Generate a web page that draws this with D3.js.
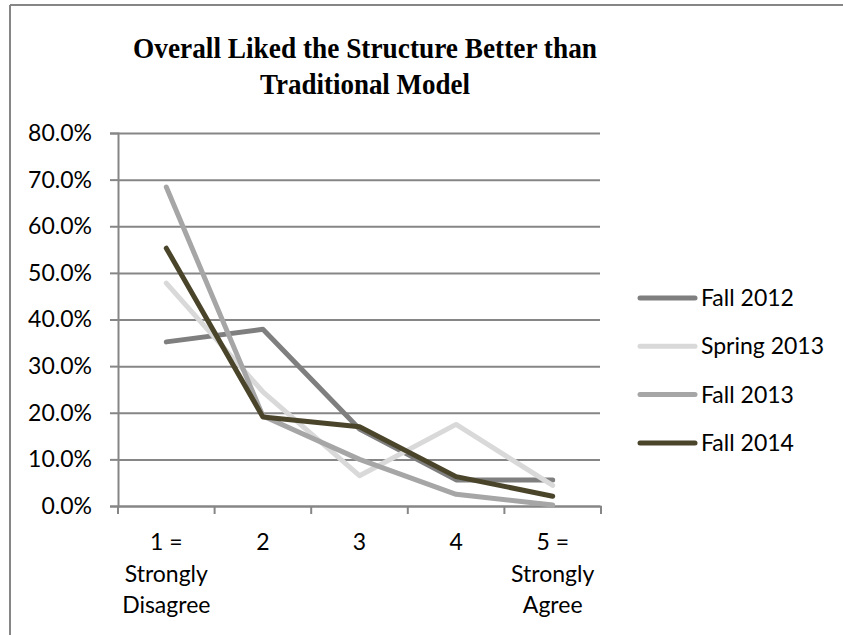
<!DOCTYPE html>
<html>
<head>
<meta charset="utf-8">
<script src="https://cdn.jsdelivr.net/npm/d3@7"></script>
<style>
  html, body { margin: 0; padding: 0; background: #fff; }
  svg { display: block; }
  text { font-family: Lato, "Noto Sans", sans-serif; fill: #000; }
</style>
</head>
<body>
<svg id="chart" width="843" height="635"></svg>
<script>
// Response scale categories (multi-line labels)
const categories = ["1 = Strongly Disagree", "2", "3", "4", "5 = Strongly Agree"];
const categoryLines = [["1 =", "Strongly", "Disagree"], ["2"], ["3"], ["4"], ["5 =", "Strongly", "Agree"]];

// Share of respondents per response, by term
const seriesNames = ["Fall 2012", "Spring 2013", "Fall 2013", "Fall 2014"];
const fall2012   = [0.352, 0.379, 0.165, 0.056, 0.056];
const spring2013 = [0.478, 0.245, 0.065, 0.175, 0.044];
const fall2013   = [0.684, 0.193, 0.100, 0.025, 0.002];
const fall2014   = [0.553, 0.191, 0.170, 0.063, 0.021];
const seriesValues = [fall2012, spring2013, fall2013, fall2014];
const seriesColors = ["#7f7f7f", "#d9d9d9", "#a6a6a6", "#4a452a"];

const yTicks = [0, 0.1, 0.2, 0.3, 0.4, 0.5, 0.6, 0.7, 0.8];
const titleLines = ["Overall Liked the Structure Better than", "Traditional Model"];

const svg = d3.select("#chart");
const gridColor = "#868686";

// Chart frame (top and left edges)
svg.append("line").attr("x1", 10).attr("x2", 843).attr("y1", 5).attr("y2", 5)
  .attr("stroke", gridColor).attr("stroke-width", 2);
svg.append("line").attr("x1", 10).attr("x2", 10).attr("y1", 5).attr("y2", 635)
  .attr("stroke", gridColor).attr("stroke-width", 2);

// Title: condensed bold serif, each line fitted to its width
const titleWidths = [464, 210];
svg.append("text")
  .attr("text-anchor", "middle")
  .style("font-family", "'Liberation Serif', 'Times New Roman', serif")
  .style("font-weight", "bold")
  .style("font-size", "30px")
  .selectAll("tspan").data(titleLines).join("tspan")
  .attr("x", 365)
  .attr("y", (d, i) => 58 + i * 36)
  .attr("textLength", (d, i) => titleWidths[i])
  .attr("lengthAdjust", "spacingAndGlyphs")
  .text(d => d);

const plot = { left: 118, right: 601, top: 133, bottom: 506 };

const x = d3.scaleBand().domain(categories).range([plot.left, plot.right]);
const y = d3.scaleLinear().domain([0, 0.8]).range([plot.bottom, plot.top]);

// Horizontal gridlines
const grid = svg.append("g").attr("transform", `translate(${plot.left},0)`)
  .call(d3.axisLeft(y).tickValues(yTicks).tickSize(-(plot.right - plot.left - 1)).tickFormat(""));
grid.select(".domain").remove();
grid.selectAll(".tick line").attr("stroke", gridColor).attr("stroke-width", 2);

// Y axis with tick labels
const yAxis = svg.append("g").attr("transform", `translate(${plot.left},0)`)
  .call(d3.axisLeft(y).tickValues(yTicks).tickSize(8).tickPadding(18).tickFormat(d3.format(".1%")));
yAxis.select(".domain").attr("stroke", gridColor).attr("stroke-width", 2);
yAxis.selectAll(".tick line").attr("stroke", gridColor).attr("stroke-width", 2);
yAxis.selectAll(".tick text").style("font-size", "23px").style("font-family", "Lato, sans-serif");

// X axis: baseline, ticks at category boundaries, multi-line labels
const xAxis = svg.append("g").attr("transform", `translate(0,${plot.bottom})`)
  .call(d3.axisBottom(x).tickSize(0).tickPadding(0).tickFormat(""));
xAxis.select(".domain").attr("stroke", gridColor).attr("stroke-width", 2);
xAxis.selectAll(".tick text").remove();

const boundaries = categories.map(c => x(c)).concat([x(categories[categories.length - 1]) + x.bandwidth()]);
xAxis.selectAll("line.boundary").data(boundaries).join("line")
  .attr("class", "boundary")
  .attr("x1", d => d).attr("x2", d => d)
  .attr("y1", 0).attr("y2", 8)
  .attr("stroke", gridColor).attr("stroke-width", 2);

const labelBaselines = [550, 582, 613];
svg.append("g").selectAll("text").data(categories).join("text")
  .attr("text-anchor", "middle")
  .style("font-size", "23px")
  .each(function (c, i) {
    d3.select(this).selectAll("tspan").data(categoryLines[i]).join("tspan")
      .attr("x", x(c) + x.bandwidth() / 2)
      .attr("y", (d, j) => labelBaselines[j])
      .text(d => d);
  });

// Series lines
const line = d3.line()
  .x((d, i) => x(categories[i]) + x.bandwidth() / 2)
  .y(d => y(d));

svg.append("g").selectAll("path").data(seriesValues).join("path")
  .attr("d", d => line(d))
  .attr("fill", "none")
  .attr("stroke", (d, i) => seriesColors[i])
  .attr("stroke-width", 5)
  .attr("stroke-linecap", "round")
  .attr("stroke-linejoin", "round");

// Legend
const legend = svg.append("g").selectAll("g").data(seriesNames).join("g")
  .attr("transform", (d, i) => `translate(640,${298 + i * 48.3})`);
legend.append("line")
  .attr("x1", 0).attr("x2", 55).attr("y1", 0).attr("y2", 0)
  .attr("stroke", (d, i) => seriesColors[i])
  .attr("stroke-width", 5)
  .attr("stroke-linecap", "round");
legend.append("text")
  .attr("x", 61).attr("y", 0).attr("dy", "0.35em")
  .style("font-size", "23px")
  .text(d => d);
</script>
</body>
</html>
